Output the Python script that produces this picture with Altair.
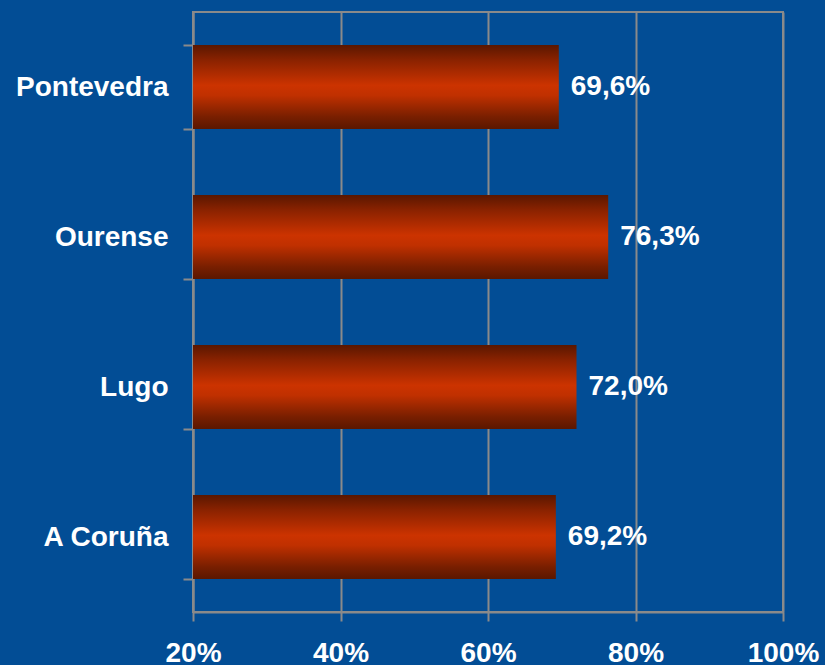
import altair as alt
import pandas as pd
import jinja2

provinces = ["Pontevedra", "Ourense", "Lugo", "A Coruña"]
values = [0.696, 0.763, 0.720, 0.692]
x_ticks = [0.2, 0.4, 0.6, 0.8, 1.0]
x_min, x_max = 0.2, 1.0

df = pd.DataFrame({
    "province": provinces,
    "value": values,
    "label": [f"{v*100:.1f}%".replace(".", ",") for v in values],
})

FONT = "Liberation Sans"
GRAY = "#8a8a8a"
BG = "#024D95"

PAGE = jinja2.Template("""<!DOCTYPE html>
<html>
<head>
  <style>
    html, body { margin: 0; padding: 0; background: """ + BG + """; }
    #{{ output_div }}.vega-embed { width: 100%; display: flex; }
  </style>
  <script type="text/javascript" src="{{ base_url }}/vega@{{ vega_version }}"></script>
  <script type="text/javascript" src="{{ base_url }}/vega-lite@{{ vegalite_version }}"></script>
  <script type="text/javascript" src="{{ base_url }}/vega-embed@{{ vegaembed_version }}"></script>
</head>
<body>
  <div id="{{ output_div }}"></div>
  <script type="text/javascript">
    var spec = {{ spec }};
    var embedOpt = {{ embed_options }};
    vegaEmbed("#{{ output_div }}", spec, embedOpt).catch(function (e) {
      document.getElementById('{{ output_div }}').innerHTML = '<pre>' + e + '</pre>';
    });
  </script>
</body>
</html>
""")

bar_gradient = alt.Gradient(
    gradient="linear", x1=0, x2=0, y1=0, y2=1,
    stops=[
        alt.GradientStop(color="#5a1700", offset=0),
        alt.GradientStop(color="#8a2200", offset=0.18),
        alt.GradientStop(color="#cc3300", offset=0.48),
        alt.GradientStop(color="#c03000", offset=0.6),
        alt.GradientStop(color="#7a1f00", offset=0.85),
        alt.GradientStop(color="#5a1700", offset=1),
    ],
)

y_enc = alt.Y(
    "province:N", sort=provinces, title=None,
    scale=alt.Scale(paddingInner=0.44, paddingOuter=0.22),
    axis=alt.Axis(
        tickBand="extent", tickSize=10, tickColor=GRAY, tickWidth=2,
        domainColor=GRAY, domainWidth=2, grid=False,
        labelFont=FONT, labelFontSize=28, labelFontWeight="bold",
        labelColor="white", labelPadding=15,
    ),
)

x_scale = alt.Scale(domain=[x_min, x_max], zero=False, nice=False)

bars = alt.Chart(df).mark_bar(color=bar_gradient).encode(
    x=alt.X(
        "value:Q", scale=x_scale, title=None,
        axis=alt.Axis(
            values=x_ticks, format=".0%", grid=True, gridColor=GRAY, gridWidth=2,
            tickSize=9, tickColor=GRAY, tickWidth=2,
            domainColor=GRAY, domainWidth=2,
            labelFont=FONT, labelFontSize=28, labelFontWeight="bold",
            labelColor="white", labelPadding=18, labelFlush=False,
        ),
    ),
    x2=alt.datum(x_min),
    y=y_enc,
)

texts = alt.Chart(df).mark_text(
    align="left", baseline="middle", dx=12, font=FONT, fontSize=28,
    fontWeight="bold", color="white",
).encode(
    x=alt.X("value:Q", scale=x_scale),
    y=alt.Y("province:N", sort=provinces),
    text="label:N",
)

chart = (bars + texts).properties(
    width=590, height=600,
    background=BG,
    autosize=alt.AutoSizeParams(type="none"),
    padding={"left": 193, "top": 12, "right": 42, "bottom": 53},
).configure_view(stroke=GRAY, strokeWidth=2, fill=BG)

chart.save("out.html", embed_options={"renderer": "svg", "actions": False},
           template=PAGE)
